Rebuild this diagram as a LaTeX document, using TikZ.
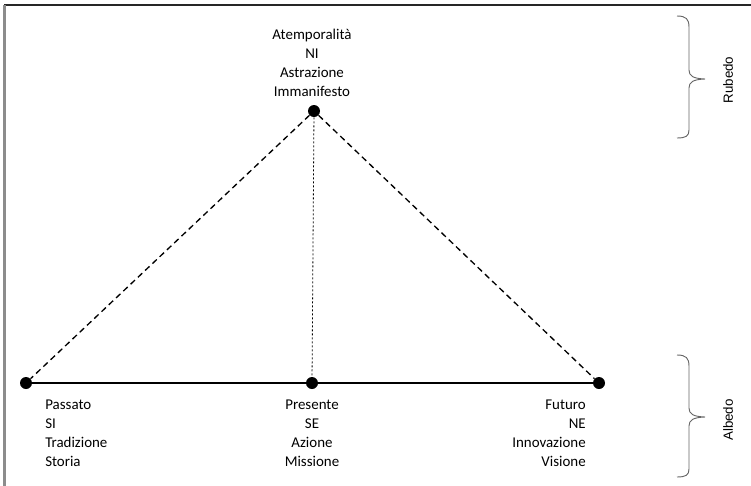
\documentclass[tikz,border=0pt]{standalone}
\usepackage{fontspec}
\setmainfont{Carlito}
\newfontfamily\sidefont{Liberation Sans}
\begin{document}
\begin{tikzpicture}[x=0.75pt,y=-0.75pt,
  dot/.style={circle,fill=black,inner sep=0pt,minimum size=9pt},
  lbl/.style={inner sep=0pt,font=\fontsize{11.2}{14.2}\selectfont},
  bracepath/.style={draw=black!60,line width=0.7pt},
  side/.style={inner sep=0pt,rotate=90,font=\sidefont\fontsize{10}{12}\selectfont}]
\useasboundingbox (0,0) rectangle (751,486);
% frame
\draw[black!85,line width=1.1pt] (4,5) -- (751,5);
\draw[black!45,line width=1.6pt] (4.5,4.5) -- (4.5,486);
% dots
\node[dot] (top) at (314,111) {};
\node[dot] (pl) at (26,383) {};
\node[dot] (pm) at (312,383) {};
\node[dot] (pr) at (599,383) {};
% connectors
\draw[line width=1pt] (pl) -- (pm) -- (pr);
\draw[line width=1pt,dash pattern=on 4.5pt off 3pt] (top) -- (pl);
\draw[line width=1pt,dash pattern=on 4.5pt off 3pt] (top) -- (pr);
\draw[line width=0.6pt,dash pattern=on 1.5pt off 1.5pt] (top) -- (pm);
% labels
\node[lbl,align=center] (tlab) at (312,63) {Atemporalità\\NI\\Astrazione\\Immanifesto};
\node[lbl,align=left,anchor=west] (llab) at (45,433) {Passato\\SI\\Tradizione\\Storia};
\node[lbl,align=center] (mlab) at (312,433) {Presente\\SE\\Azione\\Missione};
\node[lbl,align=right,anchor=east] (rlab) at (586,433) {Futuro\\NE\\Innovazione\\Visione};
% braces
\draw[bracepath] (677,16) .. controls (686,16) and (689,19) .. (689,27) -- (689,70)
  .. controls (689,76) and (693,78.5) .. (705,79)
  .. controls (693,79.5) and (689,82) .. (689,88) -- (689,130)
  .. controls (689,136) and (686,138) .. (677,138);
\draw[bracepath] (677,355) .. controls (686,355) and (689,358) .. (689,366) -- (689,408)
  .. controls (689,414) and (693,416.5) .. (705,417)
  .. controls (693,417.5) and (689,420) .. (689,426) -- (689,469)
  .. controls (689,475) and (686,477) .. (677,477);
\node[side] (rub) at (728,80) {Rubedo};
\node[side] (alb) at (728,420) {Albedo};
\end{tikzpicture}
\end{document}
